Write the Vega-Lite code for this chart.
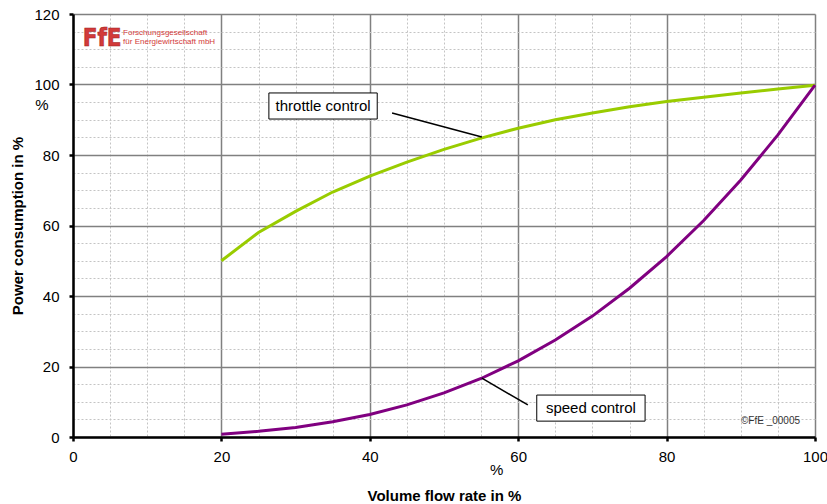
{
  "$schema": "https://vega.github.io/schema/vega-lite/v6.json",
  "autosize": {"type": "none"},
  "width": 742,
  "height": 423,
  "padding": {"left": 73, "top": 14, "right": 12, "bottom": 67},
  "background": "white",
  "config": {
    "view": {"stroke": null},
    "font": "Liberation Sans",
    "axis": {"labelFont": "Liberation Sans", "titleFont": "Liberation Sans"}
  },
  "datasets": {
    "curves": [
      {"x": 20, "y": 50.0, "series": "throttle control"},
      {"x": 25, "y": 58.0, "series": "throttle control"},
      {"x": 30, "y": 64.0, "series": "throttle control"},
      {"x": 35, "y": 69.5, "series": "throttle control"},
      {"x": 40, "y": 74.0, "series": "throttle control"},
      {"x": 45, "y": 78.0, "series": "throttle control"},
      {"x": 50, "y": 81.6, "series": "throttle control"},
      {"x": 55, "y": 84.8, "series": "throttle control"},
      {"x": 60, "y": 87.6, "series": "throttle control"},
      {"x": 65, "y": 90.0, "series": "throttle control"},
      {"x": 70, "y": 91.9, "series": "throttle control"},
      {"x": 75, "y": 93.7, "series": "throttle control"},
      {"x": 80, "y": 95.2, "series": "throttle control"},
      {"x": 85, "y": 96.4, "series": "throttle control"},
      {"x": 90, "y": 97.6, "series": "throttle control"},
      {"x": 95, "y": 98.7, "series": "throttle control"},
      {"x": 100, "y": 99.8, "series": "throttle control"},
      {"x": 20, "y": 0.8, "series": "speed control"},
      {"x": 25, "y": 1.6, "series": "speed control"},
      {"x": 30, "y": 2.7, "series": "speed control"},
      {"x": 35, "y": 4.3, "series": "speed control"},
      {"x": 40, "y": 6.4, "series": "speed control"},
      {"x": 45, "y": 9.1, "series": "speed control"},
      {"x": 50, "y": 12.5, "series": "speed control"},
      {"x": 55, "y": 16.6, "series": "speed control"},
      {"x": 60, "y": 21.6, "series": "speed control"},
      {"x": 65, "y": 27.5, "series": "speed control"},
      {"x": 70, "y": 34.3, "series": "speed control"},
      {"x": 75, "y": 42.2, "series": "speed control"},
      {"x": 80, "y": 51.2, "series": "speed control"},
      {"x": 85, "y": 61.4, "series": "speed control"},
      {"x": 90, "y": 72.9, "series": "speed control"},
      {"x": 95, "y": 85.7, "series": "speed control"},
      {"x": 100, "y": 99.8, "series": "speed control"}
    ],
    "annotations": [
      {"label": "throttle control", "bx1": 26.4, "bx2": 41.0, "by1": 97.6, "by2": 90.2, "tx": 33.7, "ty": 93.9, "lx1": 43.0, "ly1": 91.9, "lx2": 55.1, "ly2": 85.1},
      {"label": "speed control", "bx1": 62.5, "bx2": 77.1, "by1": 11.9, "by2": 4.5, "tx": 69.8, "ty": 8.2, "lx1": 55.1, "ly1": 16.7, "lx2": 61.3, "ly2": 9.1}
    ],
    "logoBig": [{"text": "FfE", "x": 1.3, "y": 110.9}],
    "logoSmall": [
      {"text": "Forschungsgesellschaft", "x": 6.75, "y": 114.6},
      {"text": "für Energiewirtschaft mbH", "x": 6.75, "y": 112.0}
    ],
    "copyright": [{"text": "©FfE _00005", "x": 94.0, "y": 4.5}],
    "units": [
      {"text": "%", "x": -4.2, "y": 94.2},
      {"text": "%", "x": 57.1, "y": -9.4}
    ]
  },
  "layer": [
    {
      "data": {"name": "curves"},
      "mark": {"type": "line", "strokeWidth": 3},
      "encoding": {
        "x": {
          "field": "x", "type": "quantitative",
          "scale": {"domain": [0, 100], "nice": false, "zero": false},
          "axis": {
            "title": "Volume flow rate in %",
            "titleFontSize": 15, "titleFontWeight": "bold", "titleColor": "#000",
            "titlePadding": 24,
            "values": [0,5,10,15,20,25,30,35,40,45,50,55,60,65,70,75,80,85,90,95,100],
            "tickCount": 100,
            "labelExpr": "datum.value % 20 === 0 ? datum.label : ''",
            "labelFontSize": 15, "labelColor": "#000", "labelPadding": 8,
            "labelFlush": false, "labelOverlap": false,
            "domainColor": "#000", "domainWidth": 2.5,
            "tickSize": 4, "tickColor": "#000", "tickWidth": 2.5,
            "tickOpacity": {"condition": {"test": "datum.value % 20 === 0", "value": 1}, "value": 0},
            "grid": true,
            "gridColor": {"condition": {"test": "datum.value % 20 === 0", "value": "#808080"}, "value": "#c4c4c4"},
            "gridDash": {"condition": {"test": "datum.value % 20 === 0", "value": []}, "value": [2, 2]},
            "gridWidth": {"condition": {"test": "datum.value % 20 === 0", "value": 1.5}, "value": 1}
          }
        },
        "y": {
          "field": "y", "type": "quantitative",
          "scale": {"domain": [0, 120], "nice": false, "zero": false},
          "axis": {
            "title": "Power consumption in %",
            "titleFontSize": 15, "titleFontWeight": "bold", "titleColor": "#000",
            "titlePadding": 8,
            "values": [0,5,10,15,20,25,30,35,40,45,50,55,60,65,70,75,80,85,90,95,100,105,110,115,120],
            "tickCount": 100,
            "labelExpr": "datum.value % 20 === 0 ? datum.label : ''",
            "labelFontSize": 15, "labelColor": "#000", "labelPadding": 10,
            "labelFlush": false, "labelOverlap": false,
            "domainColor": "#000", "domainWidth": 2.5,
            "tickSize": 4, "tickColor": "#000", "tickWidth": 2.5,
            "tickOpacity": {"condition": {"test": "datum.value % 20 === 0", "value": 1}, "value": 0},
            "grid": true,
            "gridColor": {"condition": {"test": "datum.value % 20 === 0", "value": "#808080"}, "value": "#c4c4c4"},
            "gridDash": {"condition": {"test": "datum.value % 20 === 0", "value": []}, "value": [2, 2]},
            "gridWidth": {"condition": {"test": "datum.value % 20 === 0", "value": 1.5}, "value": 1}
          }
        },
        "color": {
          "field": "series", "type": "nominal",
          "scale": {"domain": ["throttle control", "speed control"], "range": ["#99cc00", "#800080"]},
          "legend": null
        }
      }
    },
    {
      "data": {"name": "annotations"},
      "mark": {"type": "rule", "color": "#000", "strokeWidth": 1.5},
      "encoding": {
        "x": {"field": "lx1", "type": "quantitative"},
        "y": {"field": "ly1", "type": "quantitative"},
        "x2": {"field": "lx2"},
        "y2": {"field": "ly2"}
      }
    },
    {
      "data": {"name": "annotations"},
      "mark": {"type": "rect", "fill": "white", "stroke": "#000", "strokeWidth": 1},
      "encoding": {
        "x": {"field": "bx1", "type": "quantitative"},
        "x2": {"field": "bx2"},
        "y": {"field": "by1", "type": "quantitative"},
        "y2": {"field": "by2"}
      }
    },
    {
      "data": {"name": "annotations"},
      "mark": {"type": "text", "fontSize": 15, "font": "Liberation Sans", "color": "#000", "align": "center", "baseline": "middle"},
      "encoding": {
        "x": {"field": "tx", "type": "quantitative"},
        "y": {"field": "ty", "type": "quantitative"},
        "text": {"field": "label", "type": "nominal"}
      }
    },
    {
      "data": {"name": "logoBig"},
      "mark": {"type": "text", "fontSize": 24, "font": "Liberation Sans Narrow, DejaVu Sans Condensed", "fontWeight": "bold", "color": "#d23a3a", "align": "left", "baseline": "alphabetic", "stroke": "#a02020", "strokeWidth": 0.5},
      "encoding": {
        "x": {"field": "x", "type": "quantitative"},
        "y": {"field": "y", "type": "quantitative"},
        "text": {"field": "text"}
      }
    },
    {
      "data": {"name": "logoSmall"},
      "mark": {"type": "text", "fontSize": 8, "font": "Liberation Sans", "color": "#d23a3a", "align": "left", "baseline": "middle"},
      "encoding": {
        "x": {"field": "x", "type": "quantitative"},
        "y": {"field": "y", "type": "quantitative"},
        "text": {"field": "text"}
      }
    },
    {
      "data": {"name": "copyright"},
      "mark": {"type": "text", "fontSize": 10, "font": "Liberation Sans", "color": "#333", "align": "center", "baseline": "middle"},
      "encoding": {
        "x": {"field": "x", "type": "quantitative"},
        "y": {"field": "y", "type": "quantitative"},
        "text": {"field": "text"}
      }
    },
    {
      "data": {"name": "units"},
      "mark": {"type": "text", "fontSize": 15, "font": "Liberation Sans", "color": "#000", "align": "center", "baseline": "middle"},
      "encoding": {
        "x": {"field": "x", "type": "quantitative"},
        "y": {"field": "y", "type": "quantitative"},
        "text": {"field": "text"}
      }
    }
  ]
}
